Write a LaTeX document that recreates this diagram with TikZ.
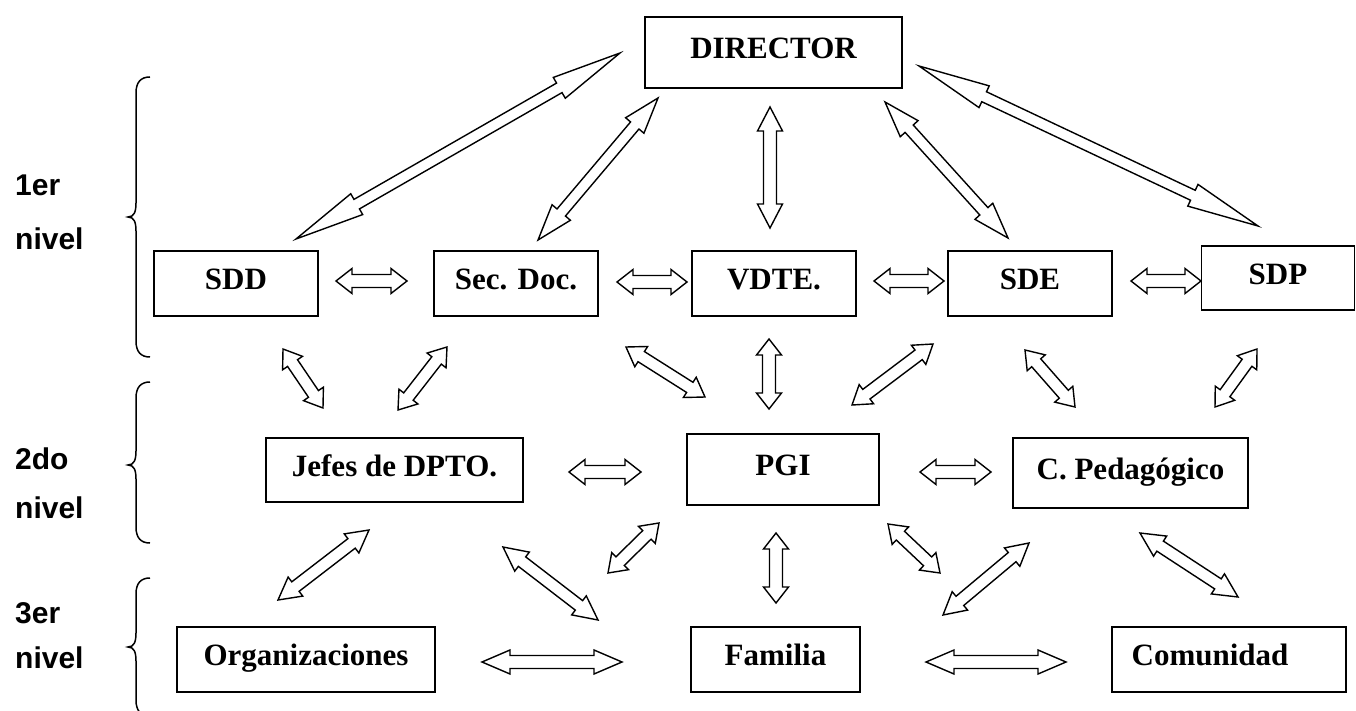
\documentclass[tikz,border=0pt]{standalone}
\usepackage{fontspec}
\setmainfont{Liberation Serif}
\newfontfamily\labfont{Liberation Sans}
\usetikzlibrary{calc}
\newcommand\dbarrow[5]{%
 \draw[arr] (#1) -- ($(#1)!#3!(#2)!#4!90:(#2)$) -- ($(#1)!#3!(#2)!#5!90:(#2)$)
  -- ($(#2)!#3!(#1)!#5!-90:(#1)$) -- ($(#2)!#3!(#1)!#4!-90:(#1)$) -- (#2)
  -- ($(#2)!#3!(#1)!#4!90:(#1)$) -- ($(#2)!#3!(#1)!#5!90:(#1)$)
  -- ($(#1)!#3!(#2)!#5!-90:(#2)$) -- ($(#1)!#3!(#2)!#4!-90:(#2)$) -- cycle;}
\newcommand\lvlbrace[3]{% top, tip, bottom
 \draw[brc] (150,#1) .. controls (141,#1) and (136,#1+5) .. (136,#1+16)
  -- (136,#2-14) .. controls (136,#2-5) and (134,#2) .. (128,#2)
  .. controls (134,#2) and (136,#2+5) .. (136,#2+14)
  -- (136,#3-16) .. controls (136,#3-5) and (141,#3) .. (150,#3);}
\begin{document}
\begin{tikzpicture}[x=1pt,y=-1pt,
  box/.style={draw, line width=1.7pt, font=\fontsize{31}{36}\selectfont\bfseries,
    text height=12pt, text depth=0pt, inner sep=0pt},
  arr/.style={draw, line width=1.4pt, line join=miter, fill=white},
  brc/.style={line width=1.5pt},
  lvl/.style={anchor=base west, inner sep=0pt, font=\labfont\bfseries\fontsize{30}{32}\selectfont}]
\useasboundingbox (0,0) rectangle (1356,711);
% boxes
\node[box, minimum width=257pt, minimum height=71pt] (dir) at (773.5,52.5) {DIRECTOR};
\node[box, minimum width=164pt, minimum height=65pt] (sdd) at (236,283.5) {SDD};
\node[box, minimum width=164pt, minimum height=65pt] (sec) at (516,283.5) {Sec. Doc.};
\node[box, minimum width=164pt, minimum height=65pt] (vdte) at (774,283.5) {VDTE.};
\node[box, minimum width=164pt, minimum height=65pt] (sde) at (1030,283.5) {SDE};
\node[box, minimum width=153pt, minimum height=64pt] (sdp) at (1278,278) {SDP};
\node[box, minimum width=257pt, minimum height=64pt] (jef) at (394.5,470) {Jefes de DPTO.};
\node[box, minimum width=192pt, minimum height=71pt] (pgi) at (783,469.5) {PGI};
\node[box, minimum width=235pt, minimum height=70pt] (cped) at (1130.5,473) {C. Pedagógico};
\node[box, minimum width=258pt, minimum height=65pt] (org) at (306,659.5) {Organizaciones};
\node[box, minimum width=169pt, minimum height=65pt] (fam) at (775.5,659.5) {Familia};
\node[box, minimum width=234pt, minimum height=65pt] (com) at (1229,659.5) {Comunidad\hspace*{38pt}};
% level labels
\node[lvl] (l1a) at (15,196) {1er};
\node[lvl] (l1b) at (15,250) {nivel};
\node[lvl] (l2a) at (15,469) {2do};
\node[lvl] (l2b) at (15,518) {nivel};
\node[lvl] (l3a) at (15,623) {3er};
\node[lvl] (l3b) at (15,668) {nivel};
\lvlbrace{77}{217}{357}
\lvlbrace{382}{465}{543}
\lvlbrace{578}{647}{716}
% arrow end points
\coordinate (a1s) at (620,53);   \coordinate (a1e) at (296,239);
\coordinate (a2s) at (658,98);   \coordinate (a2e) at (538,240);
\coordinate (a3s) at (770,107);  \coordinate (a3e) at (770,228);
\coordinate (a4s) at (885,102);  \coordinate (a4e) at (1008,238);
\coordinate (a5s) at (919,66);   \coordinate (a5e) at (1258,226);
\coordinate (a6s) at (336,281);  \coordinate (a6e) at (407,281);
\coordinate (a7s) at (617,282);  \coordinate (a7e) at (687,282);
\coordinate (a8s) at (874,281);  \coordinate (a8e) at (944,281);
\coordinate (a9s) at (1131,281); \coordinate (a9e) at (1201,281);
\coordinate (b1s) at (283,349);  \coordinate (b1e) at (323,408);
\coordinate (b2s) at (447,347);  \coordinate (b2e) at (398,410);
\coordinate (b3s) at (626,347);  \coordinate (b3e) at (705,397);
\coordinate (b4s) at (769,339);  \coordinate (b4e) at (769,409);
\coordinate (b5s) at (933,344);  \coordinate (b5e) at (852,405);
\coordinate (b6s) at (1025,350); \coordinate (b6e) at (1075,407);
\coordinate (b7s) at (1257,349); \coordinate (b7e) at (1215,407);
\coordinate (c1s) at (569,472);  \coordinate (c1e) at (641,472);
\coordinate (c2s) at (920,472);  \coordinate (c2e) at (991,472);
\coordinate (d1s) at (369,530);  \coordinate (d1e) at (278,600);
\coordinate (d2s) at (503,547);  \coordinate (d2e) at (598,620);
\coordinate (d3s) at (659,523);  \coordinate (d3e) at (608,573);
\coordinate (d4s) at (776,533);  \coordinate (d4e) at (776,603);
\coordinate (d5s) at (888,524);  \coordinate (d5e) at (940,573);
\coordinate (d6s) at (1029,543); \coordinate (d6e) at (943,615);
\coordinate (d7s) at (1140,533); \coordinate (d7e) at (1238,597);
\coordinate (e1s) at (482,662);  \coordinate (e1e) at (622,662);
\coordinate (e2s) at (926,662);  \coordinate (e2e) at (1066,662);
% arrows
\dbarrow{a1s}{a1e}{70pt}{12pt}{5.5pt}
\dbarrow{a2s}{a2e}{36pt}{12pt}{5.5pt}
\dbarrow{a3s}{a3e}{24pt}{12.5pt}{6.5pt}
\dbarrow{a4s}{a4e}{36pt}{12pt}{5.5pt}
\dbarrow{a5s}{a5e}{72pt}{12pt}{5.5pt}
\dbarrow{a6s}{a6e}{16pt}{12.5pt}{6.5pt}
\dbarrow{a7s}{a7e}{16pt}{12.5pt}{6.5pt}
\dbarrow{a8s}{a8e}{16pt}{12.5pt}{6.5pt}
\dbarrow{a9s}{a9e}{16pt}{12.5pt}{6.5pt}
\dbarrow{b1s}{b1e}{17pt}{12pt}{6pt}
\dbarrow{b2s}{b2e}{17pt}{12pt}{6pt}
\dbarrow{b3s}{b3e}{18pt}{12pt}{6pt}
\dbarrow{b4s}{b4e}{16pt}{12.5pt}{6.5pt}
\dbarrow{b5s}{b5e}{18pt}{12pt}{6pt}
\dbarrow{b6s}{b6e}{17pt}{12pt}{6pt}
\dbarrow{b7s}{b7e}{17pt}{12pt}{6pt}
\dbarrow{c1s}{c1e}{16pt}{12.5pt}{6.5pt}
\dbarrow{c2s}{c2e}{16pt}{12.5pt}{6.5pt}
\dbarrow{d1s}{d1e}{22pt}{12pt}{6pt}
\dbarrow{d2s}{d2e}{24pt}{12pt}{6pt}
\dbarrow{d3s}{d3e}{17pt}{12pt}{6pt}
\dbarrow{d4s}{d4e}{16pt}{12.5pt}{6.5pt}
\dbarrow{d5s}{d5e}{17pt}{12pt}{6pt}
\dbarrow{d6s}{d6e}{22pt}{12pt}{6pt}
\dbarrow{d7s}{d7e}{24pt}{12pt}{6pt}
\dbarrow{e1s}{e1e}{28pt}{12pt}{6.5pt}
\dbarrow{e2s}{e2e}{28pt}{12pt}{6.5pt}
\end{tikzpicture}
\end{document}
